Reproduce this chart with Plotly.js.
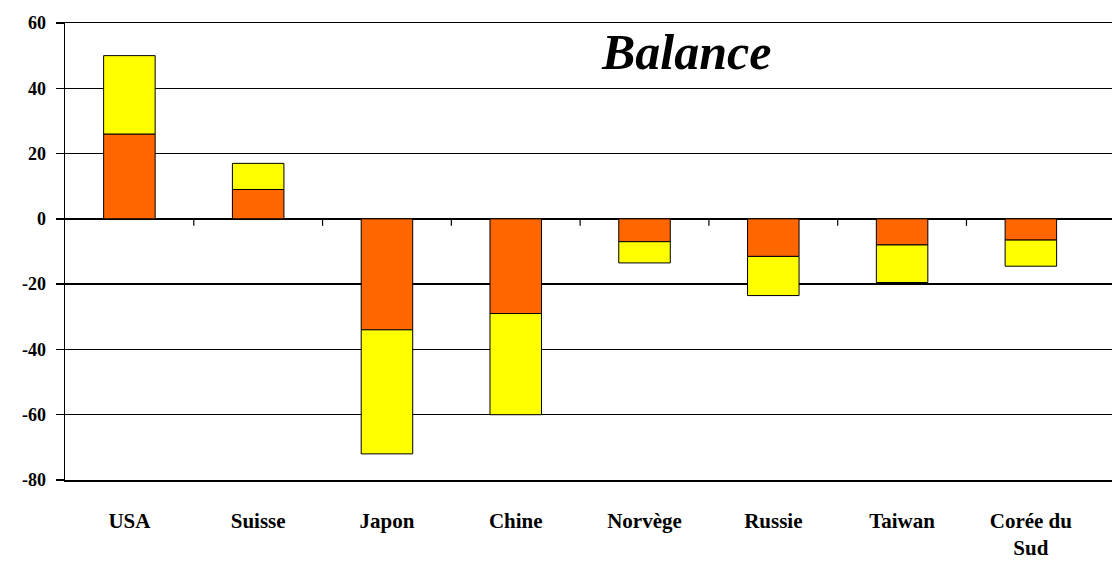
<!DOCTYPE html>
<html>
<head>
<meta charset="utf-8">
<script src="https://cdn.plot.ly/plotly-3.0.1.min.js"></script>
<style>
  html, body { margin: 0; padding: 0; background: #fff; }
  #chart { width: 1112px; height: 567px; }
</style>
</head>
<body>
<div id="chart"></div>
<script>
// Countries along the category axis
const countries = ["USA", "Suisse", "Japon", "Chine", "Norvège", "Russie", "Taiwan", "Corée du<br>Sud"];
// Lower (orange) part of each stacked bar
const partOrange = [26, 9, -34, -29, -7, -11.5, -8, -6.5];
// Upper (yellow) part stacked on top of it
const partYellow = [24, 8, -38, -31, -6.5, -12, -11.5, -8];
// Value axis ticks
const yTicks = [60, 40, 20, 0, -20, -40, -60, -80];

const serif = "Liberation Serif, Times New Roman, serif";
const idx = countries.map((_, i) => i);

const traces = [
  {
    type: "bar", x: idx, y: partOrange, width: 0.4,
    marker: { color: "#FF6600", line: { color: "#000", width: 1 } },
    hoverinfo: "y", showlegend: false
  },
  {
    type: "bar", x: idx, y: partYellow, width: 0.4,
    marker: { color: "#FFFF00", line: { color: "#000", width: 1 } },
    hoverinfo: "y", showlegend: false
  }
];

// Small ticks on the zero line between categories
const boundaryTicks = idx.slice(0, -1).map(i => ({
  type: "line", xref: "x", yref: "y",
  ysizemode: "pixel", yanchor: 0,
  x0: i + 0.5, x1: i + 0.5, y0: 0, y1: -7,
  line: { color: "#000", width: 1.2 }
}));

const layout = {
  width: 1112, height: 567,
  margin: { l: 65, r: 0, t: 23, b: 87 },
  paper_bgcolor: "#fff", plot_bgcolor: "#fff",
  barmode: "relative",
  bargap: 0,
  xaxis: {
    range: [-0.5, 7.63],
    tickmode: "array", tickvals: idx, ticktext: countries,
    ticks: "", showgrid: false, zeroline: false,
    showline: true, mirror: true, linecolor: "#000", linewidth: 1.5,
    ticklabelstandoff: 21,
    tickfont: { family: serif, size: 21, color: "#000", weight: "bold" }
  },
  yaxis: {
    range: [-80, 60],
    tickmode: "array", tickvals: yTicks, ticktext: yTicks.map(String),
    showgrid: true, gridcolor: "#000", gridwidth: 1.5,
    zeroline: true, zerolinecolor: "#000", zerolinewidth: 1.5,
    showline: true, linecolor: "#000", linewidth: 1.5,
    ticks: "outside", ticklen: 8, tickcolor: "#000", tickwidth: 1.5,
    ticklabelstandoff: 6,
    tickfont: { family: serif, size: 18, color: "#000", weight: "bold" }
  },
  shapes: boundaryTicks,
  annotations: [{
    text: "<b><i>Balance</i></b>",
    xref: "paper", yref: "paper",
    x: 0.593, y: 0.9365, xanchor: "center", yanchor: "middle",
    showarrow: false,
    font: { family: serif, size: 50, color: "#000" }
  }]
};

Plotly.newPlot("chart", traces, layout, { displayModeBar: false, staticPlot: true });
</script>
</body>
</html>
